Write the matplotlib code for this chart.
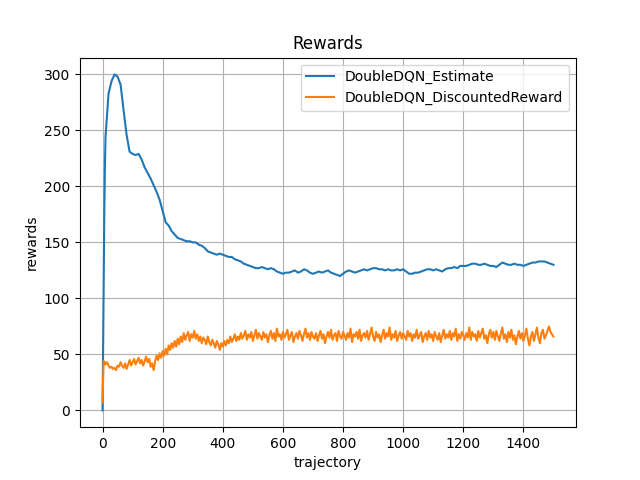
import matplotlib
matplotlib.use("Agg")
import matplotlib.pyplot as plt

traj_estimate = [0, 2, 4, 6, 8] + list(range(10, 1501, 10))
traj_discounted = [0, 2, 4, 6, 8] + list(range(10, 1501, 5))

estimate = [0, 60, 130, 180, 220,
    245, 283, 294, 300, 298, 291, 268, 246, 231, 229,
    228, 229, 224, 217, 212, 207, 201, 195, 188, 178,
    168, 165, 160, 157, 154, 153, 152, 151, 151, 150,
    150, 148, 147, 145, 142, 141, 140, 139, 140, 139,
    138, 137, 137, 135, 134, 133, 131, 130, 129, 128,
    127, 127, 128, 127, 126, 127, 126, 124, 123, 122,
    123, 123, 124, 125, 123, 124, 126, 125, 123, 122,
    123, 124, 123, 124, 125, 123, 122, 121, 120, 122,
    124, 125, 124, 123, 124, 125, 126, 125, 126, 127,
    127, 126, 126, 125, 126, 125, 125, 126, 125, 126,
    124, 122, 122, 123, 123, 124, 125, 126, 126, 125,
    126, 125, 124, 126, 127, 127, 128, 127, 129, 129,
    129, 130, 131, 131, 130, 130, 131, 130, 129, 129,
    128, 130, 132, 131, 130, 130, 131, 130, 130, 129,
    130, 131, 132, 132, 133, 133, 133, 132, 131, 130]

discounted = [7, 30, 44, 42, 43,
    41, 43, 40, 38, 39, 37, 38, 36, 40, 39, 43, 40, 38, 42, 37, 41, 45, 40, 43, 46,
    41, 44, 47, 42, 45, 40, 44, 48, 43, 46, 39, 42, 36, 44, 49, 45, 51, 47, 53, 49,
    55, 50, 58, 54, 60, 56, 62, 57, 64, 59, 66, 61, 69, 63, 67, 70, 62, 68, 65, 71,
    64, 68, 62, 66, 60, 65, 63, 59, 66, 61, 58, 63, 60, 56, 62, 59, 54, 60, 57, 62,
    58, 63, 60, 66, 61, 64, 68, 62, 66, 63, 69, 64, 67, 71, 63, 68, 65, 70, 62, 67,
    72, 64, 69, 66, 63, 70, 65, 68, 61, 67, 71, 64, 69, 62, 73, 66, 68, 63, 70, 65,
    68, 72, 63, 67, 70, 61, 66, 69, 64, 71, 67, 62, 68, 73, 65, 69, 63, 70, 66, 64,
    69, 62, 67, 71, 64, 68, 60, 66, 70, 65, 72, 63, 67, 69, 62, 71, 66, 64, 70, 67,
    63, 69, 65, 73, 61, 68, 66, 70, 64, 72, 62, 67, 69, 65, 71, 63, 68, 74, 66, 62,
    70, 65, 68, 61, 67, 72, 64, 69, 66, 74, 63, 68, 65, 71, 62, 67, 70, 64, 69, 66,
    63, 71, 66, 69, 62, 68, 65, 72, 64, 67, 70, 61, 66, 69, 63, 71, 65, 68, 62, 70,
    66, 63, 69, 61, 67, 72, 64, 68, 65, 71, 63, 69, 66, 73, 62, 68, 64, 70, 67, 63,
    69, 65, 74, 63, 70, 66, 68, 62, 71, 65, 69, 73, 64, 67, 60, 68, 72, 65, 70, 63,
    71, 66, 62, 69, 74, 64, 68, 61, 70, 65, 72, 63, 67, 59, 66, 71, 64, 69, 62, 67,
    73, 64, 58, 66, 70, 62, 68, 74, 65, 60, 69, 72, 64, 67, 71, 75, 70, 68, 66]

fig, ax = plt.subplots(figsize=(6.4, 4.8), dpi=100)
ax.plot(traj_estimate, estimate, label="DoubleDQN_Estimate")
ax.plot(traj_discounted, discounted, label="DoubleDQN_DiscountedReward")
ax.set_title("Rewards")
ax.set_xlabel("trajectory")
ax.set_ylabel("rewards")
ax.grid(True)
ax.legend(loc="upper right")
fig.savefig("out.png")
